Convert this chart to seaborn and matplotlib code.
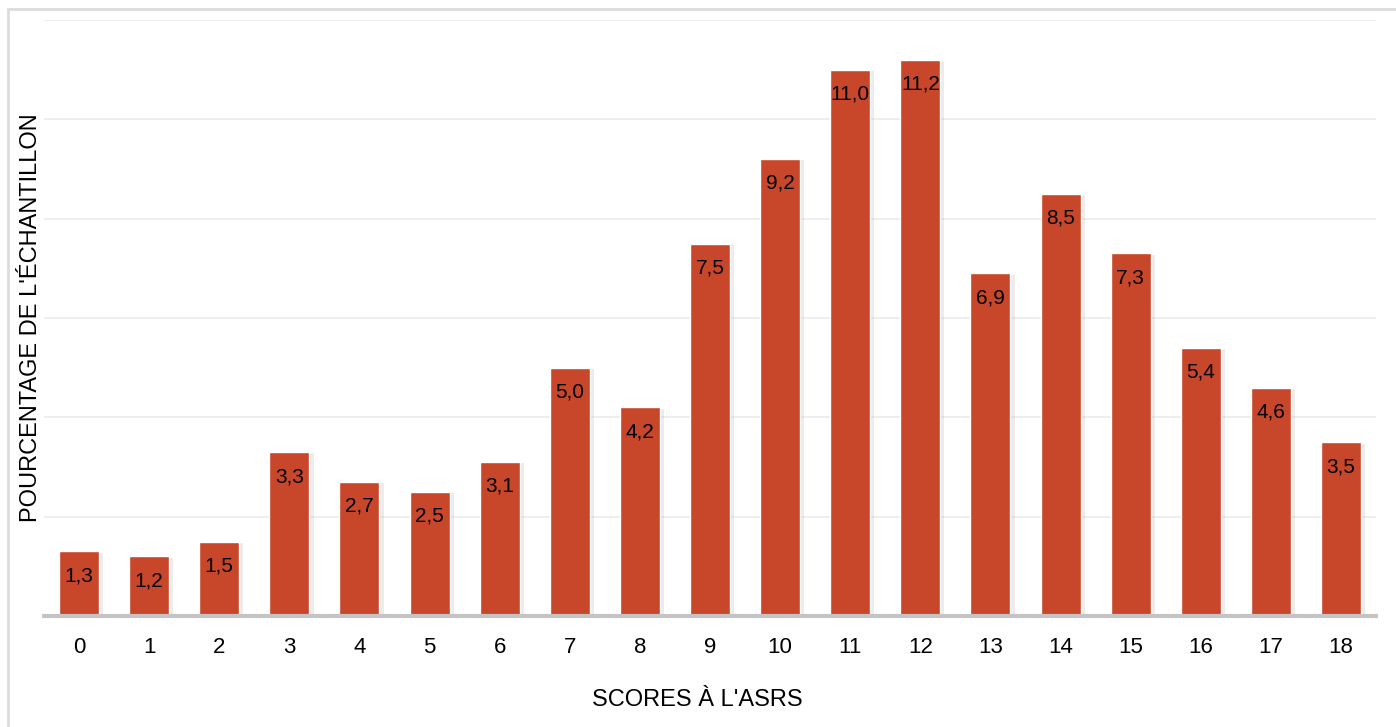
import numpy as np
import pandas as pd
import seaborn as sns
from matplotlib import pyplot as plt
from matplotlib import patheffects as pe
from matplotlib.patches import Rectangle

sns.set_theme(style='white', rc={
    'axes.spines.right': False,
    'axes.spines.top': False,
    'axes.spines.left': False,
})
plt.rcParams['font.family'] = ['Liberation Sans', 'DejaVu Sans']

# data
scores = list(range(19))
percent = [1.3, 1.2, 1.5, 3.3, 2.7, 2.5, 3.1, 5.0, 4.2, 7.5,
           9.2, 11.0, 11.2, 6.9, 8.5, 7.3, 5.4, 4.6, 3.5]
df = pd.DataFrame({'score': [str(s) for s in scores], 'pct': percent})

fig = plt.figure(figsize=(13.96, 7.27), dpi=100)
ax = fig.add_axes([44 / 1396, 1 - 616 / 727, (1376 - 44) / 1396, (616 - 20) / 727])

sns.barplot(data=df, x='score', y='pct', color='#C8472A', saturation=1,
            width=0.57, ax=ax, zorder=3)

for bar, v in zip(ax.patches, percent):
    bar.set_path_effects([pe.SimplePatchShadow(offset=(3, -1), shadow_rgbFace='#999999', alpha=0.18),
                          pe.Normal()])
    ax.text(bar.get_x() + bar.get_width() / 2, v - 0.3, f'{v:.1f}'.replace('.', ','),
            ha='center', va='top', fontsize=15, color='black', zorder=4)

ax.set_xlim(-0.5, 18.5)
ax.set_ylim(0, 12)
ax.set_yticks(np.arange(0, 13, 2))
ax.set_yticklabels([])
ax.tick_params(axis='y', length=0)
ax.tick_params(axis='x', length=0, labelsize=16, pad=15, labelcolor='black')
ax.grid(axis='y', color='#ebebeb', linewidth=1.2, zorder=0)
ax.spines['bottom'].set_color('#c4c4c4')
ax.spines['bottom'].set_linewidth(3)
ax.spines['bottom'].set_zorder(5)

ax.set_xlabel("SCORES À L'ASRS", fontsize=17, color='black')
ax.xaxis.set_label_coords((697 - 44) / (1376 - 44), -(689 - 616) / (616 - 20))
ax.set_ylabel("POURCENTAGE DE L'ÉCHANTILLON", fontsize=17, color='black')
ax.yaxis.set_label_coords((42 - 44) / (1376 - 44), 0.5)

# outer frame
fig.patches.append(Rectangle((8 / 1396, -0.1), 1.2, 1 - 9 / 727 + 0.1,
                             transform=fig.transFigure, fill=False,
                             edgecolor='#dcdcdc', linewidth=2))

fig.savefig('out.png', dpi=100)
